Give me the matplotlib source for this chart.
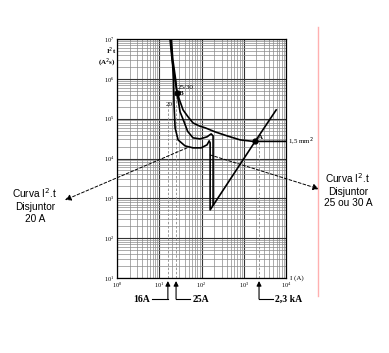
import numpy as np
import matplotlib.pyplot as plt
from matplotlib.transforms import blended_transform_factory

# curves (current in A, I^2t in A^2s)
cable_I = [18, 20.1, 23.7, 26.4, 36.6, 48.1, 63, 87.7, 122, 210, 404, 822, 1660, 10000]
cable_I2t = [1.0e7, 3.0e6, 9.4e5, 4.4e5, 1.66e5, 1.11e5, 7.8e4, 6.6e4, 5.9e4,
             4.66e4, 3.7e4, 2.93e4, 2.69e4, 2.69e4]

cb20_I = [18.6, 20.4, 21.8, 22.4, 23.7, 27.9, 40.9, 63, 98, 135, 152, 160, 160, 1862, 5860]
cb20_I2t = [1.0e7, 3.0e6, 9.4e5, 2.2e5, 5.9e4, 2.93e4, 2.07e4, 1.85e4, 1.85e4,
            2.2e4, 2.77e4, 2.47e4, 512, 2.69e4, 1.66e5]

cb25_I = [19.2, 21.0, 24.5, 26.4, 31.1, 38.7, 47, 63, 92.5, 135, 169, 188, 188]
cb25_I2t = [1.0e7, 3.0e6, 9.4e5, 4.4e5, 1.48e5, 8.3e4, 4.8e4, 3.3e4, 3.1e4,
            3.5e4, 4.15e4, 3.7e4, 680]

pt_A = (1862, 2.69e4)
pt_B = (26.4, 4.4e5)
marks_I = [16, 25, 2300]
marks_top = [2.5e5, 4.4e5, 2.69e4]
marks_lbl = ["16A", "25A", "2,3 kA"]

W, H = 389, 353
fig = plt.figure(figsize=(W / 100, H / 100), dpi=100)
ax = fig.add_axes([117 / W, 1 - 278 / H, 169 / W, 239 / H])
ax.set_xscale("log")
ax.set_yscale("log")
ax.set_xlim(1, 1e4)
ax.set_ylim(10, 1e7)

ax.grid(True, which="major", color="#333333", lw=0.8)
ax.grid(True, which="minor", color="#8a8a8a", lw=0.5)
ax.set_axisbelow(True)
for s in ax.spines.values():
    s.set_linewidth(0.9)
ax.tick_params(which="both", length=0, labelsize=4.5, pad=2)
for lab in ax.get_xticklabels() + ax.get_yticklabels():
    lab.set_family("Liberation Serif")

for xi, top in zip(marks_I, marks_top):
    ax.plot([xi, xi], [10, top], color="#888888", lw=0.6, dashes=(3, 2))

kw = dict(color="black", lw=1.2, solid_joinstyle="round")
ax.plot(cable_I, cable_I2t, **kw)
ax.plot(cb20_I, cb20_I2t, **kw)
ax.plot(cb25_I, cb25_I2t, **kw)
ax.plot(*pt_A, "o", color="black", ms=3.5)
ax.plot(*pt_B, "o", color="black", ms=3.5)

serif = dict(family="Liberation Serif", fontsize=5)
ax.text(27, 5.3e5, "25/30", ha="left", va="bottom", **serif)
ax.text(29, 4.4e5, "B", ha="left", va="center", fontweight="bold", **serif)
ax.text(20.5, 2.3e5, "20", ha="right", va="center", **serif)
ax.text(2150, 2.9e4, "A", ha="left", va="bottom", fontweight="bold", **serif)
ax.text(1.1e4, 2.69e4, "1,5 mm$^2$", ha="left", va="center", clip_on=False, **serif)
ax.text(1.25e4, 10, "I (A)", ha="left", va="center", clip_on=False, **serif)

fig.text(116 / W, 1 - 57 / H, "I$^2$t\n(A$^2$s)", ha="right", va="center",
         family="Liberation Serif", fontsize=5, fontweight="bold", linespacing=1.0)

# dashed pointers to the side notes
sans = dict(family="Liberation Sans", fontsize=7.3, ha="center", va="center", linespacing=1.2)
fig.text(35 / W, 1 - 205 / H, "Curva I$^2$.t\nDisjuntor\n20 A", **sans)
fig.text(348 / W, 1 - 190 / H, "Curva I$^2$.t\nDisjuntor\n25 ou 30 A", **sans)
arr = dict(arrowstyle="-|>", color="black", lw=0.7, linestyle=(0, (3, 2)),
           mutation_scale=9, shrinkA=0, shrinkB=0)
ax.annotate("", xy=(65 / W, 1 - 200 / H), xycoords="figure fraction",
            xytext=(45.6, 1.85e4), textcoords="data", arrowprops=arr, annotation_clip=False)
ax.annotate("", xy=(319 / W, 1 - 189 / H), xycoords="figure fraction",
            xytext=(160, 1.23e4), textcoords="data", arrowprops=arr, annotation_clip=False)

# arrows under the x axis
tr = blended_transform_factory(ax.transData, fig.transFigure)
y0, y1 = 1 - 299 / H, 1 - 281 / H
bold = dict(family="Liberation Serif", fontsize=7, fontweight="bold", va="center", transform=tr)
solid = dict(arrowstyle="-|>", color="black", lw=0.8, mutation_scale=7, shrinkA=0, shrinkB=0)
for xi, lbl in zip(marks_I, marks_lbl):
    ax.annotate("", xy=(xi, y1), xycoords=tr, xytext=(xi, y0), textcoords=tr,
                arrowprops=solid, annotation_clip=False)
    if lbl == "16A":
        ax.plot([xi / 2.4, xi], [y0, y0], color="black", lw=0.8, transform=tr, clip_on=False)
        ax.text(xi / 2.6, y0, lbl, ha="right", **bold)
    else:
        ax.plot([xi, xi * 2.1], [y0, y0], color="black", lw=0.8, transform=tr, clip_on=False)
        ax.text(xi * 2.4, y0, lbl, ha="left", **bold)

fig.add_artist(plt.Line2D([318 / W, 318 / W], [1 - 27 / H, 1 - 296 / H],
                          color="#ffb0b0", lw=1.0))

fig.savefig("out.png", dpi=100)
